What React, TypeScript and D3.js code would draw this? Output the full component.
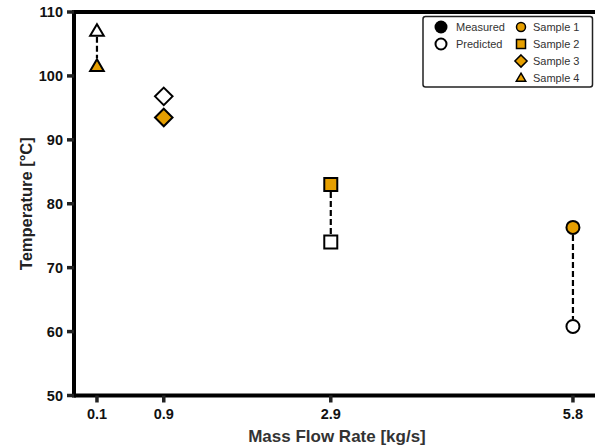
import React from "react";
import * as d3 from "d3";

const samples = ["Sample 1", "Sample 2", "Sample 3", "Sample 4"];
const shapes = ["circle", "square", "diamond", "triangle"];
const flowRates = [5.8, 2.9, 0.9, 0.1];
const measured = [76.3, 83.0, 93.5, 101.5];
const predicted = [60.8, 74.0, 96.8, 107.0];
const xTicks = [0.1, 0.9, 2.9, 5.8];
const yTicks = [50, 60, 70, 80, 90, 100, 110];

const W = 595;
const H = 447;
const m = { left: 74, top: 12, bottom: 395.5 };
const ORANGE = "#E69F00";
const FONT = "Arial, 'Liberation Sans', Helvetica, sans-serif";

function shapePath(shape: string, s: number): string {
  switch (shape) {
    case "circle":
      return d3.symbol(d3.symbolCircle, Math.PI * s * s)() as string;
    case "square":
      return `M${-s},${-s}H${s}V${s}H${-s}Z`;
    case "diamond": {
      const d = s * 1.35;
      return `M0,${-d}L${d},0L0,${d}L${-d},0Z`;
    }
    case "triangle": {
      const h = s * 1.8;
      const w = s * 1.05;
      return `M0,${-h * 0.6}L${w},${h * 0.4}L${-w},${h * 0.4}Z`;
    }
  }
  return "";
}

function extent(shape: string, s: number): [number, number] {
  if (shape === "diamond") return [s * 1.35, s * 1.35];
  if (shape === "triangle") return [s * 1.8 * 0.6, s * 1.8 * 0.4];
  return [s, s];
}

export default function App() {
  const x = d3.scaleLinear().domain([-0.175, 6.1]).range([m.left, 598]);
  const y = d3.scaleLinear().domain([50, 110]).range([m.bottom, m.top]);
  const S = 6.5;

  return (
    <svg width={W} height={H} style={{ display: "block", position: "absolute", left: 0, top: 0 }} fontFamily={FONT}>
      <rect width={W} height={H} fill="white" />
      <line x1={m.left} x2={W} y1={m.top} y2={m.top} stroke="black" strokeWidth={4} />
      <line x1={m.left} x2={W} y1={m.bottom} y2={m.bottom} stroke="black" strokeWidth={4} />
      <line x1={m.left} x2={m.left} y1={m.top - 2} y2={m.bottom + 2} stroke="black" strokeWidth={4} />
      {yTicks.map((t) => (
        <g key={t}>
          <line x1={m.left - 7} x2={m.left} y1={y(t)} y2={y(t)} stroke="#222" strokeWidth={3.5} />
          <text x={m.left - 11} y={y(t)} dy="0.36em" textAnchor="end" fontSize={14.5} fontWeight="bold" fill="#111">
            {t}
          </text>
        </g>
      ))}
      {xTicks.map((t) => (
        <g key={t}>
          <line x1={x(t)} x2={x(t)} y1={m.bottom} y2={m.bottom + 7} stroke="#222" strokeWidth={3.5} />
          <text x={x(t)} y={m.bottom + 23} textAnchor="middle" fontSize={14.5} fontWeight="bold" fill="#111">
            {t}
          </text>
        </g>
      ))}
      <text x={337} y={442} textAnchor="middle" fontSize={17} fontWeight="bold" fill="#333">
        Mass Flow Rate [kg/s]
      </text>
      <text transform={`translate(32,${(m.top + m.bottom) / 2}) rotate(-90)`} textAnchor="middle" fontSize={16.5} fontWeight="bold" fill="#222">
        Temperature [°C]
      </text>
      {samples.map((s, i) => {
        const shape = shapes[i];
        const ym = y(measured[i]);
        const yp = y(predicted[i]);
        const [tOff, bOff] = extent(shape, S);
        const topY = Math.min(ym, yp);
        const botY = Math.max(ym, yp);
        const y1 = topY + bOff + 1;
        const y2 = botY - tOff - 1;
        if (y2 - y1 < 4) return null;
        return (
          <line key={s} x1={x(flowRates[i])} x2={x(flowRates[i])} y1={y1} y2={y2} stroke="black" strokeWidth={2.2} strokeDasharray="6,3" />
        );
      })}
      {samples.map((s, i) => (
        <g key={s}>
          <path d={shapePath(shapes[i], S)} transform={`translate(${x(flowRates[i])},${y(predicted[i])})`} fill="white" stroke="black" strokeWidth={2} />
          <path d={shapePath(shapes[i], S)} transform={`translate(${x(flowRates[i])},${y(measured[i])})`} fill={ORANGE} stroke="black" strokeWidth={2} />
        </g>
      ))}
      <g>
        <rect x={423} y={16.5} width={169.5} height={70.5} rx={2.5} fill="white" stroke="#222" strokeWidth={1.5} />
        <circle cx={441} cy={27} r={6.5} fill="black" />
        <text x={456} y={27} dy="0.36em" fontSize={11} fill="#333">Measured</text>
        <circle cx={441} cy={44} r={5.5} fill="white" stroke="black" strokeWidth={2} />
        <text x={456} y={44} dy="0.36em" fontSize={11} fill="#333">Predicted</text>
        {samples.map((s, i) => (
          <g key={s}>
            <path d={shapePath(shapes[i], 4.5)} transform={`translate(521,${27 + i * 17})`} fill={ORANGE} stroke="black" strokeWidth={1.5} />
            <text x={533} y={27 + i * 17} dy="0.36em" fontSize={11} fill="#333">{s}</text>
          </g>
        ))}
      </g>
    </svg>
  );
}
